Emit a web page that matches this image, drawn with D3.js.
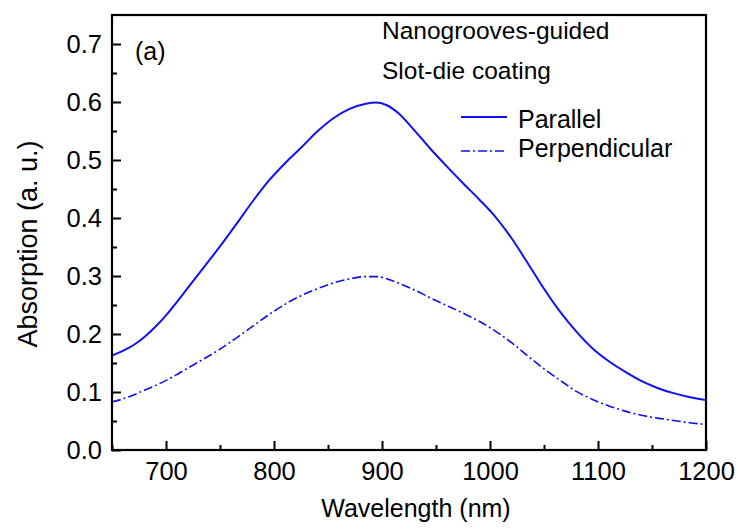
<!DOCTYPE html>
<html>
<head>
<meta charset="utf-8">
<script src="https://cdn.jsdelivr.net/npm/d3@7"></script>
<style>
  html, body { margin: 0; padding: 0; background: #fff; }
  svg text { font-family: "Liberation Sans", Arial, sans-serif; fill: #000; }
</style>
</head>
<body>
<svg id="chart" width="738" height="529"></svg>
<script>
// ---- data ----
const wavelengths = [650, 660, 670, 680, 690, 700, 710, 720, 735, 750, 765, 780, 795, 810, 825, 840, 855, 870, 885, 895, 905, 915, 930, 945, 960, 975, 990, 1005, 1020, 1035, 1050, 1065, 1080, 1095, 1110, 1125, 1140, 1155, 1170, 1185, 1200];
const parallel = [0.163, 0.171, 0.181, 0.195, 0.212, 0.232, 0.255, 0.279, 0.315, 0.351, 0.389, 0.428, 0.464, 0.494, 0.521, 0.549, 0.572, 0.588, 0.597, 0.599, 0.594, 0.581, 0.551, 0.519, 0.489, 0.460, 0.432, 0.402, 0.365, 0.322, 0.278, 0.238, 0.204, 0.175, 0.153, 0.135, 0.119, 0.107, 0.098, 0.091, 0.086];
const perpendicular = [0.083, 0.088, 0.095, 0.103, 0.111, 0.120, 0.130, 0.141, 0.157, 0.174, 0.193, 0.213, 0.233, 0.251, 0.266, 0.278, 0.288, 0.295, 0.299, 0.299, 0.295, 0.288, 0.276, 0.262, 0.249, 0.236, 0.222, 0.205, 0.185, 0.162, 0.140, 0.120, 0.101, 0.087, 0.076, 0.067, 0.060, 0.055, 0.051, 0.047, 0.044];
const seriesNames = ["Parallel", "Perpendicular"];
const xTicks = [700, 800, 900, 1000, 1100, 1200];
const xMinorTicks = [650, 750, 850, 950, 1050, 1150];
const yTicks = [0.0, 0.1, 0.2, 0.3, 0.4, 0.5, 0.6, 0.7];
const yMinorTicks = [0.05, 0.15, 0.25, 0.35, 0.45, 0.55, 0.65];
const annotations = ["Nanogrooves-guided", "Slot-die coating"];
const panelLabel = "(a)";
const xLabel = "Wavelength (nm)";
const yLabel = "Absorption (a. u.)";

// ---- layout ----
const svg = d3.select("#chart");
const L = 112, R = 706, T = 15, B = 450;
const x = d3.scaleLinear().domain([650, 1200]).range([L, R]);
const y = d3.scaleLinear().domain([0, 0.75]).range([B, T]);
const blue = "#1010f5";

// curves
const line = d3.line().x(d => x(d[0])).y(d => y(d[1])).curve(d3.curveMonotoneX);
const parData = wavelengths.map((w, i) => [w, parallel[i]]);
const perData = wavelengths.map((w, i) => [w, perpendicular[i]]);

svg.append("path").datum(parData).attr("d", line)
  .attr("fill", "none").attr("stroke", blue).attr("stroke-width", 2);
svg.append("path").datum(perData).attr("d", line)
  .attr("fill", "none").attr("stroke", blue).attr("stroke-width", 1.6)
  .attr("stroke-dasharray", "9,3,2,3");

// axes
const fmtY = d3.format(".1f");
const gx = svg.append("g").attr("transform", `translate(0,${B})`)
  .call(d3.axisBottom(x).tickValues(xTicks).tickSize(-9).tickPadding(12).tickFormat(d3.format("d")));
const gxm = svg.append("g").attr("transform", `translate(0,${B})`)
  .call(d3.axisBottom(x).tickValues(xMinorTicks).tickSize(-5).tickFormat(""));
const gy = svg.append("g").attr("transform", `translate(${L},0)`)
  .call(d3.axisLeft(y).tickValues(yTicks).tickSize(-9).tickPadding(10).tickFormat(fmtY));
const gym = svg.append("g").attr("transform", `translate(${L},0)`)
  .call(d3.axisLeft(y).tickValues(yMinorTicks).tickSize(-5).tickFormat(""));

[gx, gxm, gy, gym].forEach(g => {
  g.select(".domain").remove();
  g.selectAll(".tick line").attr("stroke", "#000").attr("stroke-width", 2);
  g.selectAll(".tick text").attr("font-size", 25.5).attr("font-family", "Liberation Sans, Arial, sans-serif");
});

// frame
svg.append("rect").attr("x", L).attr("y", T).attr("width", R - L).attr("height", B - T)
  .attr("fill", "none").attr("stroke", "#000").attr("stroke-width", 2.2);

// axis labels
svg.append("text").attr("x", 416).attr("y", 517).attr("text-anchor", "middle")
  .attr("font-size", 25).text(xLabel);
svg.append("text").attr("transform", "translate(37,244) rotate(-90)").attr("text-anchor", "middle")
  .attr("font-size", 27).text(yLabel);

// annotations
svg.append("text").attr("x", 135).attr("y", 60).attr("font-size", 25).text(panelLabel);
svg.append("text").attr("x", 382).attr("y", 39).attr("font-size", 24.5).text(annotations[0]);
svg.append("text").attr("x", 382).attr("y", 79).attr("font-size", 24.5).text(annotations[1]);

// legend
const legendY = [117, 151];
const legendText = [128, 157];
const styles = [{w: 2, dash: null}, {w: 1.6, dash: "9,3,2,3"}];
seriesNames.forEach((name, i) => {
  svg.append("line").attr("x1", 461).attr("x2", 507).attr("y1", legendY[i]).attr("y2", legendY[i])
    .attr("stroke", blue).attr("stroke-width", styles[i].w)
    .attr("stroke-dasharray", styles[i].dash);
  svg.append("text").attr("x", 518).attr("y", legendText[i]).attr("font-size", 25).text(name);
});
</script>
</body>
</html>
